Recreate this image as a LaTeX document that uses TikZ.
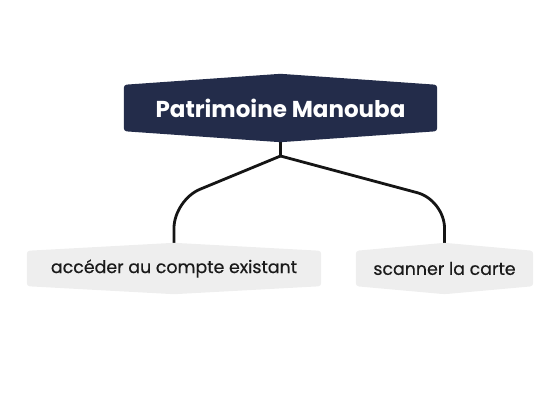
\documentclass[tikz,border=0pt]{standalone}
\usepackage{fontspec}
\setmainfont{Poppins}
\newfontfamily\leaffont[FakeBold=0.5]{Poppins}
\usetikzlibrary{calc}
\definecolor{navy}{HTML}{232C4A}
\definecolor{pale}{HTML}{EEEEEE}
\definecolor{ink}{HTML}{1A1A1A}
\definecolor{wire}{HTML}{151515}
\pgfdeclarelayer{background}
\pgfsetlayers{background,main}
\newcommand\hexshape[3]{%
  \fill[#2,rounded corners=3pt] (#1.north west) -- ($(#1.north)+(0,-#3)$) -- (#1.north east)
    -- (#1.south east) -- ($(#1.south)+(0,#3)$) -- (#1.south west) -- cycle;}
\begin{document}
\begin{tikzpicture}[x=1pt,y=-1pt,
  rootbox/.style={minimum width=313pt,minimum height=46pt,inner sep=0pt,text=white,
    font=\bfseries\fontsize{23}{26}\selectfont},
  leafbox/.style={minimum height=35pt,inner sep=0pt,text=ink,
    font=\leaffont\bfseries\mdseries\fontsize{17.4}{20}\selectfont},
  wirestyle/.style={draw=wire,line width=2.8pt}]
\useasboundingbox (0,0) rectangle (555,410);
\node[rootbox] (root) at (280.5,108) {Patrimoine Manouba};
\node[leafbox,minimum width=294pt] (acc) at (174,268.5) {accéder au compte existant};
\node[leafbox,minimum width=177pt] (scan) at (444.5,268.5) {scanner la carte};
\coordinate (hub) at (280.5,156);
\coordinate (bendA) at (174,200);
\coordinate (bendB) at (444.5,200);
\begin{pgfonlayer}{background}
\draw[wirestyle] (root.south) -- (hub);
\draw[wirestyle,rounded corners=28pt] (hub) -- (bendA) -- (acc.north);
\draw[wirestyle,rounded corners=28pt] (hub) -- (bendB) -- (scan.north);
\hexshape{root}{navy}{11}
\hexshape{acc}{pale}{8}
\hexshape{scan}{pale}{8}
\end{pgfonlayer}
\end{tikzpicture}
\end{document}
